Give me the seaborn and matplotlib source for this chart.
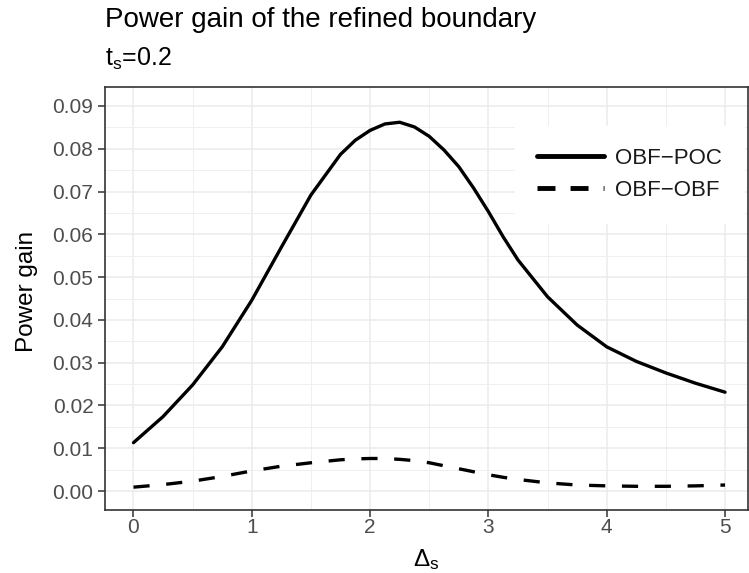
import numpy as np
import pandas as pd
import matplotlib
matplotlib.use("Agg")
import matplotlib.pyplot as plt
import seaborn as sns
from matplotlib.ticker import MultipleLocator, FormatStrFormatter

delta_s = [0.0, 0.25, 0.5, 0.75, 1.0, 1.25, 1.5, 1.75, 1.875, 2.0, 2.125,
           2.25, 2.375, 2.5, 2.625, 2.75, 2.875, 3.0, 3.125, 3.25, 3.5,
           3.75, 4.0, 4.25, 4.5, 4.75, 5.0]
obf_poc = [0.0113, 0.0174, 0.0248, 0.0337, 0.0446, 0.0570, 0.0692, 0.0787,
           0.0820, 0.0843, 0.0858, 0.0862, 0.0851, 0.0829, 0.0797, 0.0758,
           0.0708, 0.0653, 0.0594, 0.0540, 0.0454, 0.0388, 0.0337, 0.0303,
           0.0276, 0.0252, 0.0231]
obf_obf = [0.0009, 0.0015, 0.0023, 0.0034, 0.0047, 0.0058, 0.0066, 0.0073,
           0.0075, 0.0076, 0.0076, 0.0074, 0.0071, 0.0066, 0.0059, 0.0052,
           0.0045, 0.0038, 0.0032, 0.0027, 0.0019, 0.0014, 0.0012, 0.0011,
           0.0011, 0.0012, 0.0014]
series_names = ["OBF\u2212POC", "OBF\u2212OBF"]
x_ticks = [0, 1, 2, 3, 4, 5]

df = pd.DataFrame({
    "delta": delta_s * 2,
    "gain": obf_poc + obf_obf,
    "design": [series_names[0]] * len(delta_s) + [series_names[1]] * len(delta_s),
})

sns.set_theme(style="whitegrid")
plt.rcParams["font.family"] = ["Liberation Sans", "DejaVu Sans"]
plt.rcParams["mathtext.fontset"] = "custom"
plt.rcParams["mathtext.rm"] = "Liberation Sans"
plt.rcParams["mathtext.it"] = "Liberation Sans"

W, H = 749, 573
fig = plt.figure(figsize=(W / 100, H / 100), dpi=100)
left, right, top, bottom = 104.5, 748.0, 87.3, 510.0
ax = fig.add_axes([left / W, 1 - bottom / H, (right - left) / W, (bottom - top) / H])

sns.lineplot(data=df, x="delta", y="gain", style="design",
             dashes={series_names[0]: "", series_names[1]: (4.85, 5.0)},
             color="black", linewidth=2.4, ax=ax, legend=True)

ax.set_xlim(-0.245, 5.194)
ax.set_ylim(-0.00444, 0.09437)
ax.set_xticks(x_ticks)
ax.yaxis.set_major_locator(MultipleLocator(0.01))
ax.xaxis.set_minor_locator(MultipleLocator(0.5))
ax.yaxis.set_minor_locator(MultipleLocator(0.005))
ax.yaxis.set_major_formatter(FormatStrFormatter("%.2f"))

ax.set_facecolor("white")
ax.grid(which="major", color="#EBEBEB", linewidth=1.1)
ax.grid(which="minor", color="#EFEFEF", linewidth=0.7)
ax.set_axisbelow(True)
for s in ax.spines.values():
    s.set_color("#333333")
    s.set_linewidth(1.2)
ax.tick_params(axis="both", which="major", length=5, width=1.1, color="#333333",
               labelcolor="#4D4D4D", labelsize=15, left=True, bottom=True)
ax.tick_params(axis="y", pad=3)
ax.tick_params(axis="x", pad=1)
ax.tick_params(which="minor", length=0)

ax.set_xlabel(r"$\Delta_\mathrm{s}$", fontsize=17.5, color="black")
ax.xaxis.set_label_coords(0.5, -0.088)
ax.set_ylabel("Power gain", fontsize=17.5, color="black")
ax.yaxis.set_label_coords(-0.103, 0.518)

fig.text(105 / W, 1 - 27 / H, "Power gain of the refined boundary",
         fontsize=20, color="black", ha="left", va="baseline")
fig.text(105 / W, 1 - 66 / H, r"t$_\mathrm{s}$=0.2",
         fontsize=18, color="black", ha="left", va="baseline")

leg = ax.legend(title=None, loc="upper left",
                bbox_to_anchor=(515 / W, 1 - 126 / H), bbox_transform=fig.transFigure,
                frameon=True, fancybox=False, framealpha=1, edgecolor="white",
                fontsize=16, handlelength=3.0, handletextpad=0.5,
                labelspacing=0.48, borderpad=1.0, borderaxespad=0)
for t in leg.get_texts():
    t.set_color("#1a1a1a")
leg_lines = leg.get_lines()
for l in leg_lines:
    l.set_linewidth(3.5)
leg_lines[1].set_dashes([3.7, 3.1])

fig.savefig("out.png", dpi=100)
